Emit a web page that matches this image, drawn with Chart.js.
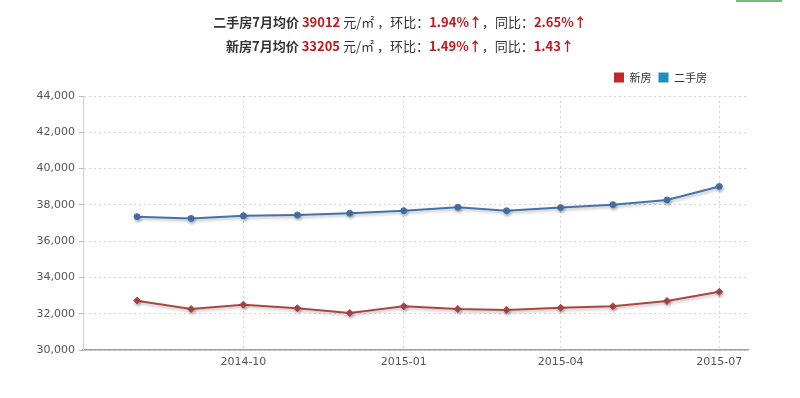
<!DOCTYPE html>
<html><head><meta charset="utf-8">
<script src="https://cdn.jsdelivr.net/npm/chart.js@4"></script>
<style>
html,body{margin:0;padding:0;background:#fff;width:800px;height:398px;overflow:hidden;}
#wrap{position:relative;width:800px;height:398px;}
#c{position:absolute;left:0;top:0;}
.t{position:absolute;left:0;width:800px;text-align:center;font-family:"Noto Sans CJK SC","DejaVu Sans",sans-serif;font-size:13px;color:#333;line-height:18px;}
.t b{font-weight:bold;}
.t .r{color:#c8161d;font-weight:bold;}
#g{position:absolute;left:736px;top:0;width:46px;height:2px;background:#7ab77a;}
</style></head>
<body><div id="wrap">
<canvas id="c" width="800" height="398"></canvas>
<div class="t" style="top:13px"><b>二手房7月均价</b> <span class="r">39012</span> 元/㎡ ，环比：<span class="r">1.94%↑</span>，同比：<span class="r">2.65%↑</span></div>
<div class="t" style="top:37px"><b>新房7月均价</b> <span class="r">33205</span> 元/㎡ ，环比：<span class="r">1.49%↑</span>，同比：<span class="r">1.43↑</span></div>
<div id="g"></div>
</div>
<script>
const months = ['2014-08','2014-09','2014-10','2014-11','2014-12','2015-01','2015-02','2015-03','2015-04','2015-05','2015-06','2015-07'];
const newHomes = [32720,32260,32500,32300,32040,32410,32260,32210,32330,32410,32700,33205];
const resale = [37350,37250,37400,37440,37535,37680,37865,37680,37850,38010,38270,39012];
const xTickLabels = ['2014-10','2015-01','2015-04','2015-07'];
const seriesNames = ['新房','二手房'];

const dayNum = s => Date.UTC(+s.slice(0,4), +s.slice(5,7)-1, 1)/86400000;
const dayLabel = d => { const dt = new Date(d*86400000); return dt.getUTCFullYear()+'-'+String(dt.getUTCMonth()+1).padStart(2,'0'); };
const xMin = dayNum('2014-07');
const xMax = dayNum('2015-07') + 16.5;

const shadow = {
  id:'shadow',
  beforeDatasetDraw(chart){ const c=chart.ctx; c.save(); c.shadowColor='rgba(0,0,0,0.25)'; c.shadowBlur=3; c.shadowOffsetX=1; c.shadowOffsetY=2; },
  afterDatasetDraw(chart){ chart.ctx.restore(); }
};
const legendShift = {
  id:'legendShift',
  afterLayout(chart){ chart.legend.right -= 34; chart.legend.top -= 3; }
};

new Chart(document.getElementById('c'), {
  type:'line',
  data:{ datasets:[
    { label:seriesNames[0], data:months.map((m,i)=>({x:dayNum(m),y:newHomes[i]})),
      borderColor:'#aa4643', backgroundColor:'#aa4643', pointBackgroundColor:'#aa4643', pointBorderColor:'#aa4643',
      pointStyle:'rectRot', pointRadius:3.5, pointBorderWidth:1, borderWidth:2, tension:0 },
    { label:seriesNames[1], data:months.map((m,i)=>({x:dayNum(m),y:resale[i]})),
      borderColor:'#4572a7', backgroundColor:'#4572a7', pointBackgroundColor:'#4572a7', pointBorderColor:'#4572a7',
      pointStyle:'circle', pointRadius:3, pointBorderWidth:1, borderWidth:2, tension:0 }
  ]},
  options:{
    responsive:false, animation:false,
    layout:{padding:{left:0,right:52,top:68,bottom:0}},
    plugins:{
      tooltip:{enabled:false},
      legend:{ position:'top', align:'end',
        labels:{ boxWidth:10, boxHeight:10, padding:7, color:'#333',
          font:{family:'"Noto Sans CJK SC", sans-serif', size:11},
          generateLabels(chart){ const cols=['#c0282d','#1f8fbf']; return chart.data.datasets.map((d,i)=>({text:d.label,fillStyle:cols[i],strokeStyle:cols[i],lineWidth:0,datasetIndex:i,fontColor:'#333'})); }
        } }
    },
    scales:{
      x:{ type:'linear', min:xMin, max:xMax,
        afterBuildTicks(s){ s.ticks = xTickLabels.map(l=>({value:dayNum(l)})); },
        afterFit(s){ s.height = 48; },
        ticks:{ callback:v=>dayLabel(v), color:'#555', font:{family:'"DejaVu Sans", sans-serif', size:11}, maxRotation:0, autoSkip:false, padding:6 },
        grid:{ color:'#d4d4d4', drawTicks:false, tickLength:0 },
        border:{ display:true, color:'#a0a0a0', width:1.5, dash:[2,3] }
      },
      y:{ min:30000, max:44000,
        afterBuildTicks(s){ const t=[]; for(let v=30000; v<=44000; v+=2000) t.push({value:v}); s.ticks=t; },
        afterFit(s){ s.width = 83; },
        ticks:{ callback:v=>v.toLocaleString('en-US'), color:'#555', font:{family:'"DejaVu Sans", sans-serif', size:11}, padding:4 },
        grid:{ color:'#d4d4d4', tickLength:4, tickColor:'#bbb' },
        border:{ display:true, color:'#d0d0d0', width:1, dash:[2,3] }
      }
    }
  },
  plugins:[shadow, legendShift]
});
</script>
</body></html>
